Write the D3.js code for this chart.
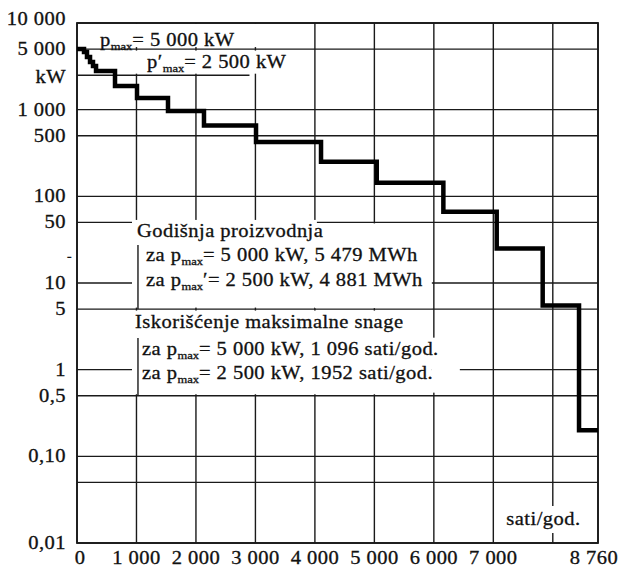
<!DOCTYPE html>
<html>
<head>
<meta charset="utf-8">
<script src="https://cdn.jsdelivr.net/npm/d3@7"></script>
<style>
  html, body { margin: 0; padding: 0; background: #fff; }
  svg { display: block; }
  text { font-family: "Liberation Serif", "DejaVu Serif", serif; fill: #111; stroke: #111; stroke-width: 0.3px; letter-spacing: 0.4px; }
</style>
</head>
<body>
<svg id="chart" width="619" height="569"></svg>
<script>
// Load-duration curve: hours per year against power (log scale)
const stepHours = [0, 118, 168, 219, 269, 320, 639, 1009, 1530, 2135, 3010, 4103, 5040, 6160, 7057, 7830, 8441, 8760];
const stepPower = [5000, 4630, 4050, 3550, 3190, 2790, 1875, 1365, 966, 656, 424, 251, 143, 66.5, 25, 5.5, 0.2];

const yTicks = [10000, 5000, 1000, 500, 100, 50, 10, 5, 1, 0.5, 0.1, 0.05, 0.01];
const yTickLabels = ["10 000", "5 000", "1 000", "500", "100", "50", "10", "5", "1", "0,5", "0,10", "", "0,01"];
const xTicks = [0, 1000, 2000, 3000, 4000, 5000, 6000, 7000, 8000, 8760];
const xTickLabels = ["0", "1 000", "2 000", "3 000", "4 000", "5 000", "6 000", "7 000", "", "8 760"];

const pMax = 5000;        // kW
const pMaxReduced = 2500; // kW
const yUnit = "kW";
const xUnit = "sati/god.";

const svg = d3.select("#chart");
const x = d3.scaleLinear().domain([0, 8760]).range([77, 598]);
const y = d3.scaleLog().domain([0.01, 10000]).range([543, 23]);

const ink = "#1a1a1a";
const stretch = 1.14; // typeset lettering is set slightly wide

const grid = svg.append("g").attr("stroke", ink).attr("stroke-width", 1.4);

// vertical grid
grid.selectAll("line.v").data(xTicks).join("line")
  .attr("x1", d => x(d)).attr("x2", d => x(d))
  .attr("y1", y(10000)).attr("y2", y(0.01));
// horizontal grid
grid.selectAll("line.h").data(yTicks).join("line")
  .attr("x1", x(0)).attr("x2", x(8760))
  .attr("y1", d => y(d)).attr("y2", d => y(d));

// white panels behind the annotation texts
const panels = [
  [x(0) + 11, y(10000) + 1, 217, y(pMax) - y(10000) - 3],
  [x(0) + 51, y(pMax) + 1.5, 164, y(pMaxReduced) - y(pMax) - 3],
  [x(0) + 55, y(50) - 2.5, x(4000) - x(0) - 53, y(5) - y(50) + 1],
  [x(4000), y(50) + 1, x(6000) - x(4000) - 2, y(5) - y(50) - 2],
  [x(0) + 55, y(5) + 1.5, x(6000) - x(0) - 57, y(0.5) - y(5) - 3],
  [x(6000) - 2, y(1) - 32, 28, 55],
  [x(7000) + 12, 506, 74, 27]
];
svg.append("g").selectAll("rect").data(panels).join("rect")
  .attr("x", d => d[0]).attr("y", d => d[1])
  .attr("width", d => d[2]).attr("height", d => d[3])
  .attr("fill", "#fff");

// reduced-capacity line and text brackets
const extra = svg.append("g").attr("stroke", ink).attr("stroke-width", 1.4);
extra.append("line")
  .attr("x1", x(0)).attr("x2", x(2900))
  .attr("y1", y(pMaxReduced)).attr("y2", y(pMaxReduced));
extra.append("line")
  .attr("x1", x(1000) + 1.5).attr("x2", x(1000) + 1.5)
  .attr("y1", 245).attr("y2", y(5));
extra.append("line")
  .attr("x1", x(1000) + 1.5).attr("x2", x(1000) + 1.5)
  .attr("y1", 338).attr("y2", y(0.5));

// frame
svg.append("rect")
  .attr("x", x(0)).attr("y", y(10000))
  .attr("width", x(8760) - x(0)).attr("height", y(0.01) - y(10000))
  .attr("fill", "none").attr("stroke", ink).attr("stroke-width", 1.8);

// text placed with a horizontal stretch about its anchor point
function label(px, py, str, anchor, size) {
  return svg.append("text")
    .attr("transform", `translate(${px},${py}) scale(${stretch},1)`)
    .attr("text-anchor", anchor || "start")
    .attr("font-size", size || 18)
    .text(str);
}

// y tick labels
yTicks.forEach((d, i) => label(66, y(d) + 6 - (i === 0 ? 4 : 0), yTickLabels[i], "end"));
label(66, y(pMaxReduced) + 8, yUnit, "end");
label(67, y(20) + 4, "-", "start", 12);

// x tick labels
xTicks.forEach((d, i) => label(x(d) + (i === 0 ? 3 : 0) - (d === 8760 ? 4 : 0), 564, xTickLabels[i], "middle"));

label(x(7000) + 13, 525, xUnit);

// rich text with subscripts
function rich(px, py, parts) {
  const t = svg.append("text")
    .attr("transform", `translate(${px},${py}) scale(${stretch},1)`)
    .attr("font-size", 18);
  parts.forEach(([s, kind]) => {
    const sp = t.append("tspan").text(s);
    if (kind === "sub") sp.attr("font-size", 11).attr("dy", 4).style("letter-spacing", "0px");
    if (kind === "up") sp.attr("dy", -4);
  });
  return t;
}

rich(100, 46, [["p", ""], ["max", "sub"], ["= 5 000 kW", "up"]]);
rich(147, 68, [["p′", ""], ["max", "sub"], ["= 2 500 kW", "up"]]);

rich(137, 237, [["Godišnja proizvodnja", ""]]);
rich(146, 261, [["za p", ""], ["max", "sub"], ["= 5 000 kW, 5 479 MWh", "up"]]);
rich(146, 286, [["za p", ""], ["max", "sub"], ["′= 2 500 kW, 4 881 MWh", "up"]]);

rich(135, 328, [["Iskorišćenje maksimalne snage", ""]]);
rich(142, 355, [["za p", ""], ["max", "sub"], ["= 5 000 kW, 1 096 sati/god.", "up"]]);
rich(142, 379, [["za p", ""], ["max", "sub"], ["= 2 500 kW, 1952 sati/god.", "up"]]);

// step curve
const pts = stepPower.map((p, i) => [stepHours[i], p]);
pts.push([stepHours[stepHours.length - 1], stepPower[stepPower.length - 1]]);
const line = d3.line().x(d => x(d[0])).y(d => y(d[1])).curve(d3.curveStepAfter);
svg.append("path").attr("d", line(pts))
  .attr("fill", "none").attr("stroke", "#000").attr("stroke-width", 4.5)
  .attr("stroke-linejoin", "miter");
</script>
</body>
</html>
